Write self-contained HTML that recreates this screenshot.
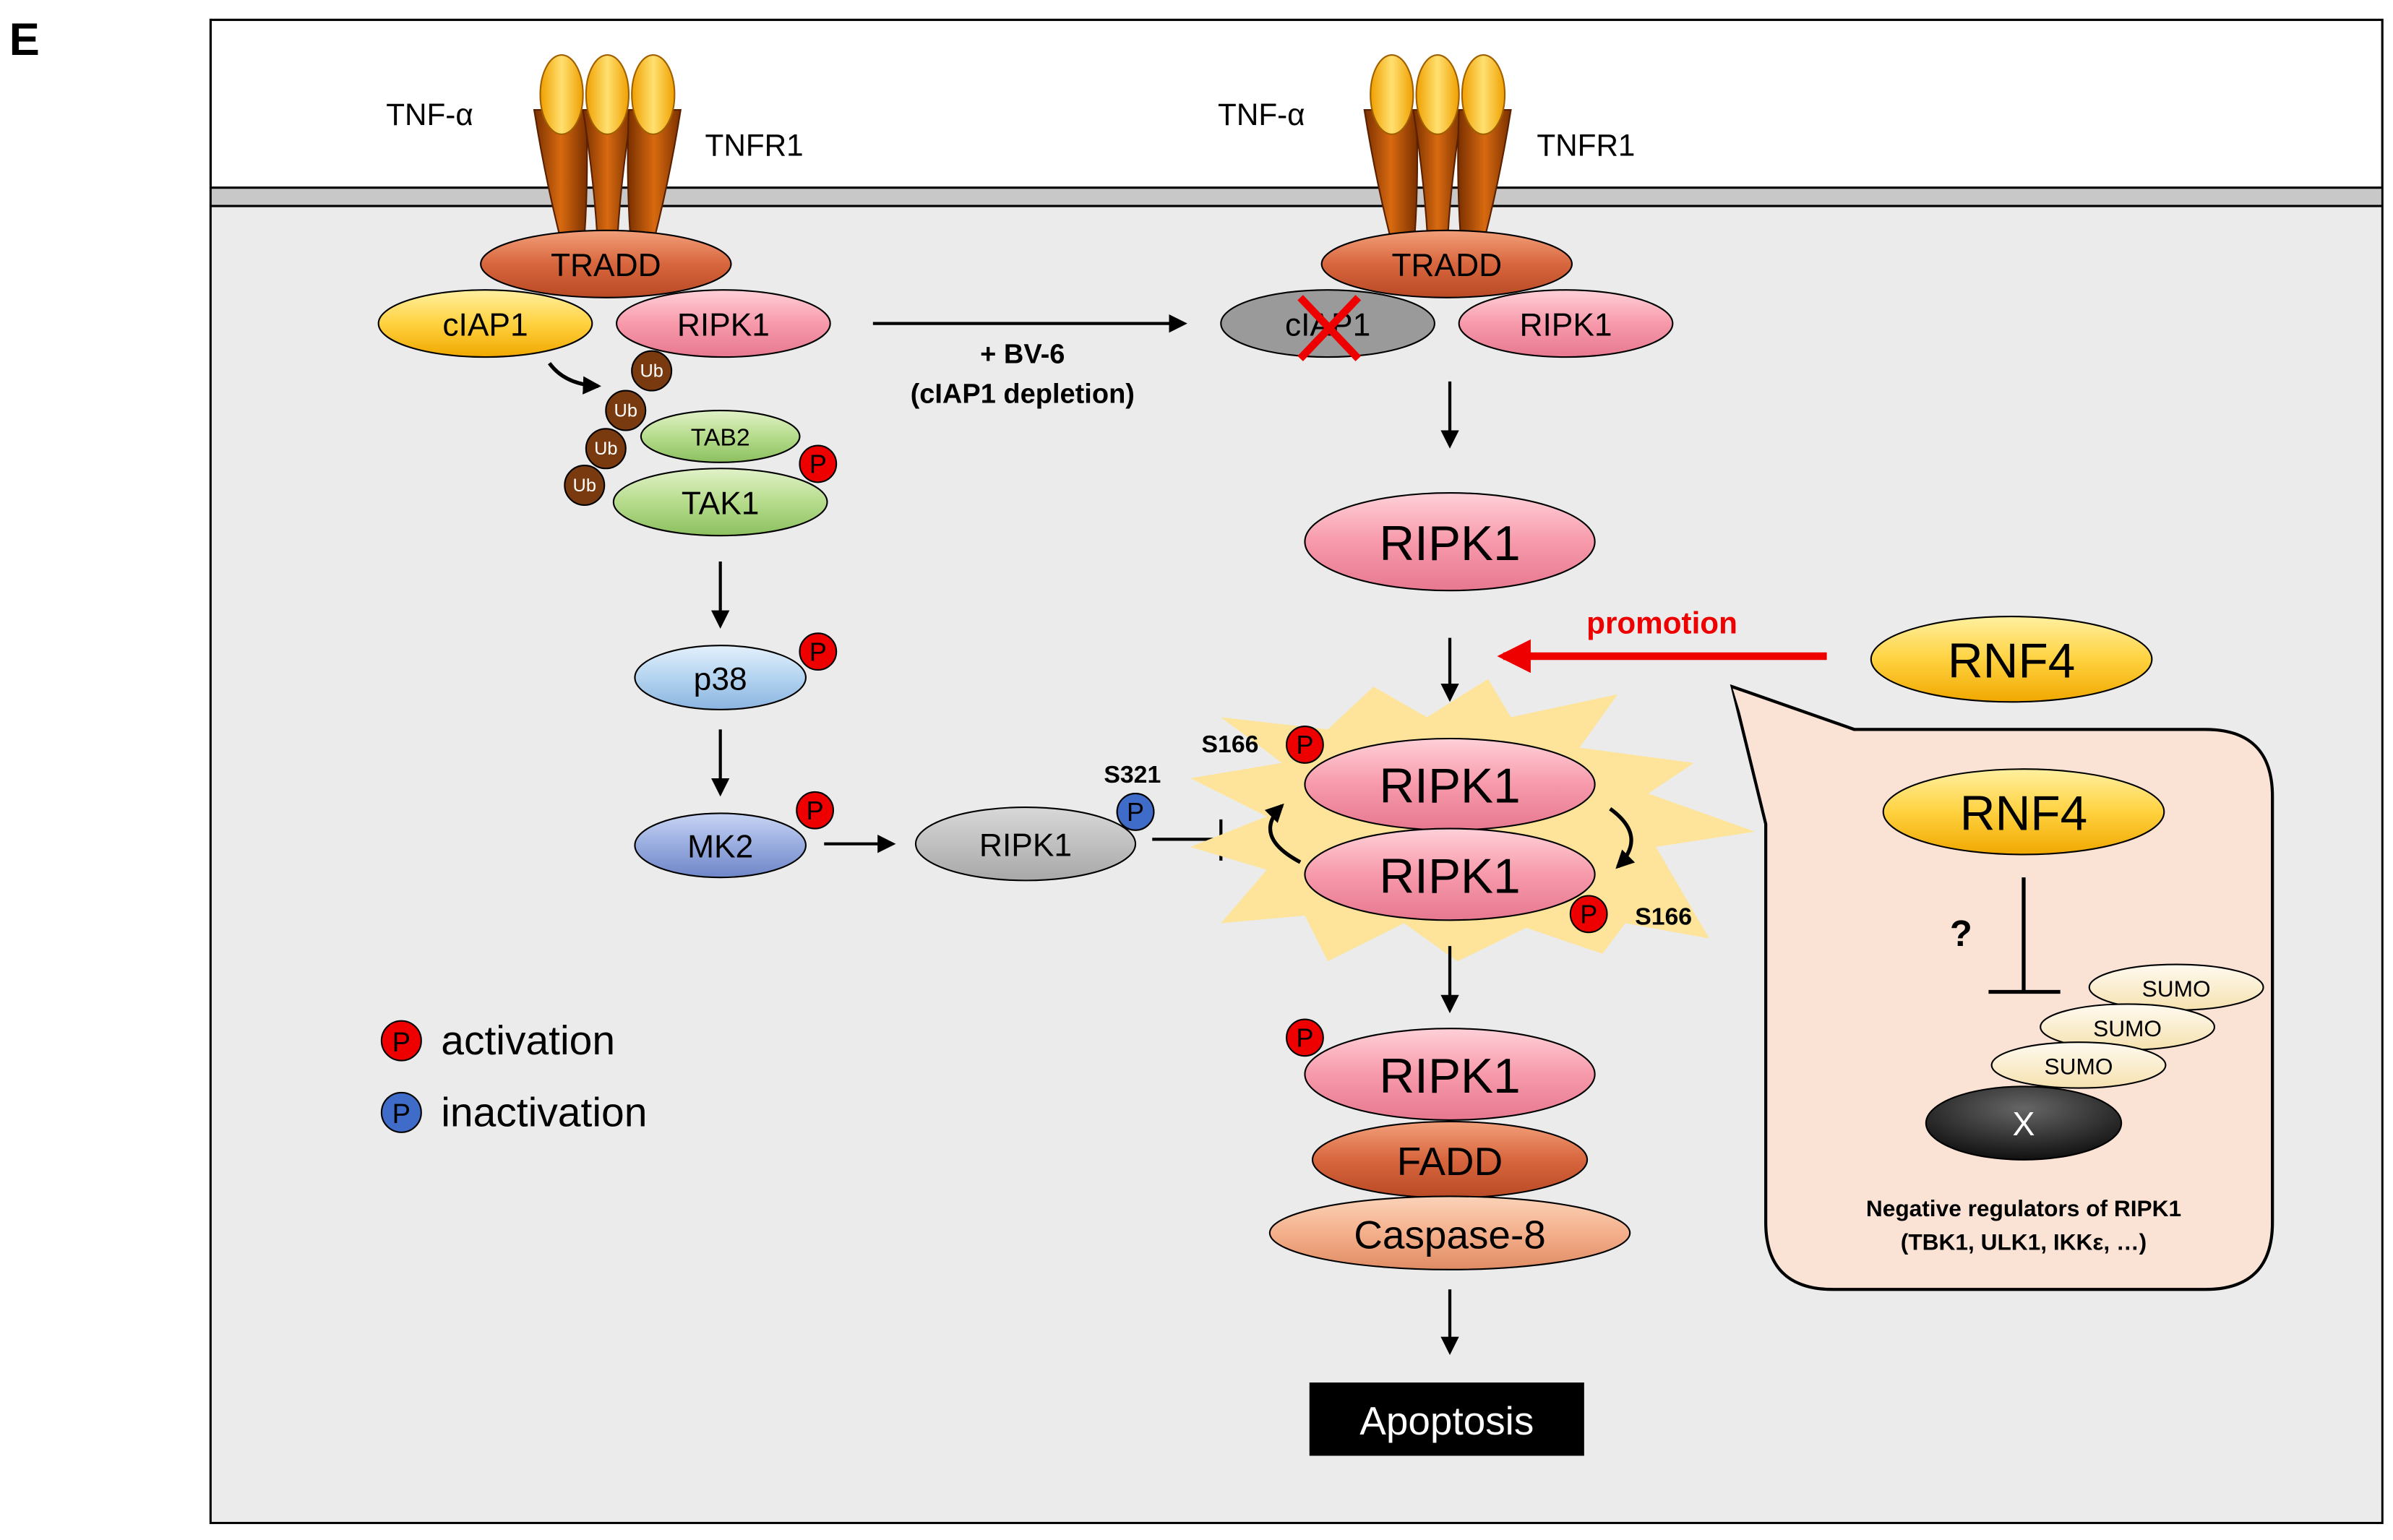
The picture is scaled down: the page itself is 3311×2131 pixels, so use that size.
<!DOCTYPE html>
<html><head><meta charset="utf-8"><style>html,body{margin:0;padding:0;background:#fff}svg{display:block}text{font-family:"Liberation Sans",Arial,sans-serif}</style></head>
<body>
<svg width="3311" height="2131" viewBox="0 0 1568 1009.2" preserveAspectRatio="none" xmlns="http://www.w3.org/2000/svg">
<defs>
<marker id="ar" markerWidth="12" markerHeight="12" refX="10" refY="6" orient="auto" markerUnits="userSpaceOnUse"><path d="M0,0 L12,6 L0,12 z" fill="#000"/></marker>
<marker id="arr" markerWidth="22" markerHeight="22" refX="18" refY="11" orient="auto" markerUnits="userSpaceOnUse"><path d="M0,0 L22,11 L0,22 z" fill="#e00"/></marker>
<linearGradient id="gPink" x1="0" y1="0" x2="0" y2="1"><stop offset="0" stop-color="#ffd0d8"/><stop offset="0.5" stop-color="#f79aab"/><stop offset="1" stop-color="#e77890"/></linearGradient>
<linearGradient id="gBrown" x1="0" y1="0" x2="0" y2="1"><stop offset="0" stop-color="#f2a07a"/><stop offset="0.5" stop-color="#d8663e"/><stop offset="1" stop-color="#b84a25"/></linearGradient>
<linearGradient id="gYel" x1="0" y1="0" x2="0" y2="1"><stop offset="0" stop-color="#fff0a0"/><stop offset="0.5" stop-color="#ffd240"/><stop offset="1" stop-color="#f0a800"/></linearGradient>
<linearGradient id="gGreen" x1="0" y1="0" x2="0" y2="1"><stop offset="0" stop-color="#e2f2c8"/><stop offset="0.5" stop-color="#b6dc8c"/><stop offset="1" stop-color="#8cc060"/></linearGradient>
<linearGradient id="gLB" x1="0" y1="0" x2="0" y2="1"><stop offset="0" stop-color="#e4f0fc"/><stop offset="0.5" stop-color="#b4d4f0"/><stop offset="1" stop-color="#8ab4e0"/></linearGradient>
<linearGradient id="gB" x1="0" y1="0" x2="0" y2="1"><stop offset="0" stop-color="#c8d4f4"/><stop offset="0.5" stop-color="#98acdf"/><stop offset="1" stop-color="#6f86c8"/></linearGradient>
<linearGradient id="gGray" x1="0" y1="0" x2="0" y2="1"><stop offset="0" stop-color="#d8d8d8"/><stop offset="1" stop-color="#a8a8a8"/></linearGradient>
<linearGradient id="gSal" x1="0" y1="0" x2="0" y2="1"><stop offset="0" stop-color="#fbd2b8"/><stop offset="0.5" stop-color="#f4b08c"/><stop offset="1" stop-color="#e08c64"/></linearGradient>
<linearGradient id="gRec" x1="0" y1="0" x2="1" y2="0"><stop offset="0" stop-color="#7a3000"/><stop offset="0.5" stop-color="#d86a10"/><stop offset="1" stop-color="#7a3000"/></linearGradient>
<linearGradient id="gTnf" x1="0" y1="0" x2="1" y2="0"><stop offset="0" stop-color="#f0a000"/><stop offset="0.5" stop-color="#ffe070"/><stop offset="1" stop-color="#f0a000"/></linearGradient>
<linearGradient id="gSumo" x1="0" y1="0" x2="0" y2="1"><stop offset="0" stop-color="#fffaf0"/><stop offset="1" stop-color="#f6e2b0"/></linearGradient>
<radialGradient id="gX" cx="0.5" cy="0.3" r="0.7"><stop offset="0" stop-color="#666"/><stop offset="1" stop-color="#111"/></radialGradient>
<g id="rec">
<path d="M-48,0 Q-40,50 -28,95 L-16,95 Q-12,50 -14,0 z" fill="url(#gRec)" stroke="#5a2000" stroke-width="1"/>
<path d="M-16,0 Q-8,50 -6,95 L6,95 Q8,50 16,0 z" fill="url(#gRec)" stroke="#5a2000" stroke-width="1"/>
<path d="M14,0 Q12,50 16,95 L28,95 Q40,50 48,0 z" fill="url(#gRec)" stroke="#5a2000" stroke-width="1"/>
<ellipse cx="-30" cy="-10" rx="14" ry="26" fill="url(#gTnf)" stroke="#a06000"/>
<ellipse cx="0" cy="-10" rx="14" ry="26" fill="url(#gTnf)" stroke="#a06000"/>
<ellipse cx="30" cy="-10" rx="14" ry="26" fill="url(#gTnf)" stroke="#a06000"/>
</g>
</defs>
<rect x="0" y="0" width="1568" height="1009.2" fill="#fff"/>
<text x="6" y="36" font-size="30" font-weight="bold">E</text>
<rect x="138" y="13" width="1423" height="985" fill="#fff" stroke="#000" stroke-width="1.5"/>
<rect x="138.7" y="135" width="1421.6" height="862.3" fill="#ebebeb"/>
<rect x="138.7" y="123" width="1421.6" height="12" fill="#c8c8c8"/>
<line x1="138" y1="123" x2="1561" y2="123" stroke="#000" stroke-width="1.5"/>
<line x1="138" y1="135" x2="1561" y2="135" stroke="#000" stroke-width="1.5"/>

<use href="#rec" x="398" y="72"/>
<text x="253" y="82" font-size="20">TNF-α</text>
<text x="462" y="102" font-size="20">TNFR1</text>
<use href="#rec" x="942" y="72"/>
<text x="798" y="82" font-size="20">TNF-α</text>
<text x="1007" y="102" font-size="20">TNFR1</text>

<ellipse cx="397" cy="173" rx="82" ry="22" fill="url(#gBrown)" stroke="#000"/>
<text x="397" y="181" font-size="21" text-anchor="middle">TRADD</text>
<ellipse cx="318" cy="212" rx="70" ry="22" fill="url(#gYel)" stroke="#000"/>
<text x="318" y="220" font-size="21" text-anchor="middle">cIAP1</text>
<ellipse cx="474" cy="212" rx="70" ry="22" fill="url(#gPink)" stroke="#000"/>
<text x="474" y="220" font-size="21" text-anchor="middle">RIPK1</text>
<path d="M360,238 Q370,252 392,253" fill="none" stroke="#000" stroke-width="2.5" marker-end="url(#ar)"/>
<ellipse cx="472" cy="286" rx="52" ry="17" fill="url(#gGreen)" stroke="#000"/>
<text x="472" y="292" font-size="16" text-anchor="middle">TAB2</text>
<ellipse cx="472" cy="329" rx="70" ry="22" fill="url(#gGreen)" stroke="#000"/>
<text x="472" y="337" font-size="21" text-anchor="middle">TAK1</text>
<g font-size="12" fill="#fff" text-anchor="middle">
<circle cx="427" cy="243" r="13" fill="#7a3a10" stroke="#000"/><text x="427" y="247">Ub</text>
<circle cx="410" cy="269" r="13" fill="#7a3a10" stroke="#000"/><text x="410" y="273">Ub</text>
<circle cx="397" cy="294" r="13" fill="#7a3a10" stroke="#000"/><text x="397" y="298">Ub</text>
<circle cx="383" cy="318" r="13" fill="#7a3a10" stroke="#000"/><text x="383" y="322">Ub</text>
</g>
<g font-size="17" text-anchor="middle">
<circle cx="536" cy="304" r="12" fill="#e00" stroke="#000"/><text x="536" y="310">P</text>
<circle cx="536" cy="427" r="12" fill="#e00" stroke="#000"/><text x="536" y="433">P</text>
<circle cx="534" cy="531" r="12" fill="#e00" stroke="#000"/><text x="534" y="537">P</text>
<circle cx="744" cy="532" r="12" fill="#3f6cc8" stroke="#000"/><text x="744" y="538">P</text>
</g>
<line x1="472" y1="368" x2="472" y2="410" stroke="#000" stroke-width="2" marker-end="url(#ar)"/>
<ellipse cx="472" cy="444" rx="56" ry="21" fill="url(#gLB)" stroke="#000"/>
<text x="472" y="452" font-size="21" text-anchor="middle">p38</text>
<line x1="472" y1="478" x2="472" y2="520" stroke="#000" stroke-width="2" marker-end="url(#ar)"/>
<ellipse cx="472" cy="554" rx="56" ry="21" fill="url(#gB)" stroke="#000"/>
<text x="472" y="562" font-size="21" text-anchor="middle">MK2</text>
<line x1="540" y1="553" x2="585" y2="553" stroke="#000" stroke-width="2" marker-end="url(#ar)"/>
<ellipse cx="672" cy="553" rx="72" ry="24" fill="url(#gGray)" stroke="#000"/>
<text x="672" y="561" font-size="21" text-anchor="middle">RIPK1</text>
<circle cx="744" cy="532" r="12" fill="#3f6cc8" stroke="#000"/><text x="744" y="538" font-size="17" text-anchor="middle">P</text>
<text x="742" y="513" font-size="16" font-weight="bold" text-anchor="middle">S321</text>
<line x1="755" y1="550" x2="800" y2="550" stroke="#000" stroke-width="2"/>
<line x1="800" y1="537" x2="800" y2="564" stroke="#000" stroke-width="2"/>

<line x1="572" y1="212" x2="776" y2="212" stroke="#000" stroke-width="2" marker-end="url(#ar)"/>
<text x="670" y="238" font-size="18" font-weight="bold" text-anchor="middle">+ BV-6</text>
<text x="670" y="264" font-size="18" font-weight="bold" text-anchor="middle">(cIAP1 depletion)</text>

<ellipse cx="948" cy="173" rx="82" ry="22" fill="url(#gBrown)" stroke="#000"/>
<text x="948" y="181" font-size="21" text-anchor="middle">TRADD</text>
<ellipse cx="870" cy="212" rx="70" ry="22" fill="#9a9a9a" stroke="#000"/>
<text x="870" y="220" font-size="21" text-anchor="middle">cIAP1</text>
<path d="M852,195 L890,235 M890,195 L852,235" stroke="#e00" stroke-width="5"/>
<ellipse cx="1026" cy="212" rx="70" ry="22" fill="url(#gPink)" stroke="#000"/>
<text x="1026" y="220" font-size="21" text-anchor="middle">RIPK1</text>
<line x1="950" y1="250" x2="950" y2="292" stroke="#000" stroke-width="2" marker-end="url(#ar)"/>
<ellipse cx="950" cy="355" rx="95" ry="32" fill="url(#gPink)" stroke="#000"/>
<text x="950" y="367" font-size="32" text-anchor="middle">RIPK1</text>
<line x1="950" y1="418" x2="950" y2="458" stroke="#000" stroke-width="2" marker-end="url(#ar)"/>
<line x1="1197" y1="430" x2="985" y2="430" stroke="#e00" stroke-width="5" marker-end="url(#arr)"/>
<text x="1089" y="415" font-size="20" font-weight="bold" fill="#e00" text-anchor="middle">promotion</text>
<ellipse cx="1318" cy="432" rx="92" ry="28" fill="url(#gYel)" stroke="#000"/>
<text x="1318" y="444" font-size="32" text-anchor="middle">RNF4</text>

<polygon points="800,470 870,478 900,450 935,470 975,445 990,470 1060,455 1035,490 1110,500 1080,520 1150,545 1085,555 1120,615 1065,605 1050,625 1000,608 955,630 920,605 870,630 855,600 800,605 830,570 780,555 830,535 780,510 840,500" fill="#fde49a"/>
<ellipse cx="950" cy="514" rx="95" ry="30" fill="url(#gPink)" stroke="#000"/>
<text x="950" y="526" font-size="32" text-anchor="middle">RIPK1</text>
<ellipse cx="950" cy="573" rx="95" ry="30" fill="url(#gPink)" stroke="#000"/>
<text x="950" y="585" font-size="32" text-anchor="middle">RIPK1</text>
<g font-size="17" text-anchor="middle">
<circle cx="855" cy="488" r="12" fill="#e00" stroke="#000"/><text x="855" y="494">P</text>
<circle cx="1041" cy="599" r="12" fill="#e00" stroke="#000"/><text x="1041" y="605">P</text>
</g>
<text x="806" y="493" font-size="16" font-weight="bold" text-anchor="middle">S166</text>
<text x="1090" y="606" font-size="16" font-weight="bold" text-anchor="middle">S166</text>
<path d="M852,565 Q820,548 840,528" fill="none" stroke="#000" stroke-width="2.5" marker-end="url(#ar)"/>
<path d="M1055,530 Q1080,548 1060,568" fill="none" stroke="#000" stroke-width="2.5" marker-end="url(#ar)"/>
<line x1="950" y1="620" x2="950" y2="662" stroke="#000" stroke-width="2" marker-end="url(#ar)"/>
<ellipse cx="950" cy="760" rx="90" ry="25" fill="url(#gBrown)" stroke="#000"/>
<text x="950" y="770" font-size="26" text-anchor="middle">FADD</text>
<ellipse cx="950" cy="704" rx="95" ry="30" fill="url(#gPink)" stroke="#000"/>
<text x="950" y="716" font-size="32" text-anchor="middle">RIPK1</text>
<circle cx="855" cy="680" r="12" fill="#e00" stroke="#000"/><text x="855" y="686" font-size="17" text-anchor="middle">P</text>
<ellipse cx="950" cy="808" rx="118" ry="24" fill="url(#gSal)" stroke="#000"/>
<text x="950" y="818" font-size="26" text-anchor="middle">Caspase-8</text>
<line x1="950" y1="845" x2="950" y2="886" stroke="#000" stroke-width="2" marker-end="url(#ar)"/>
<rect x="858" y="906" width="180" height="48" fill="#000"/>
<text x="948" y="940" font-size="26" fill="#fff" text-anchor="middle">Apoptosis</text>

<circle cx="263" cy="682" r="13" fill="#e00" stroke="#000"/><text x="263" y="689" font-size="18" text-anchor="middle">P</text>
<text x="289" y="691" font-size="27">activation</text>
<circle cx="263" cy="729" r="13" fill="#3f6cc8" stroke="#000"/><text x="263" y="736" font-size="18" text-anchor="middle">P</text>
<text x="289" y="738" font-size="27">inactivation</text>

<path d="M1215,478 L1445,478 Q1489,478 1489,522 L1489,801 Q1489,845 1445,845 L1201,845 Q1157,845 1157,801 L1157,540 L1135,450 Z" fill="#fae3d5" stroke="#000" stroke-width="2"/>
<path d="M1135,450 L1215,478 L1201,478 Q1157,478 1157,522 Z" fill="#fae3d5" stroke="none"/>
<path d="M1135,450 L1215,478" stroke="#000" stroke-width="2"/>
<ellipse cx="1326" cy="532" rx="92" ry="28" fill="url(#gYel)" stroke="#000"/>
<text x="1326" y="544" font-size="32" text-anchor="middle">RNF4</text>
<line x1="1326" y1="575" x2="1326" y2="650" stroke="#000" stroke-width="2.5"/>
<line x1="1303" y1="650" x2="1350" y2="650" stroke="#000" stroke-width="2.5"/>
<text x="1285" y="620" font-size="24" font-weight="bold" text-anchor="middle">?</text>
<ellipse cx="1426" cy="647" rx="57" ry="15" fill="url(#gSumo)" stroke="#000"/>
<text x="1426" y="653" font-size="15" text-anchor="middle">SUMO</text>
<ellipse cx="1394" cy="673" rx="57" ry="15" fill="url(#gSumo)" stroke="#000"/>
<text x="1394" y="679" font-size="15" text-anchor="middle">SUMO</text>
<ellipse cx="1362" cy="698" rx="57" ry="15" fill="url(#gSumo)" stroke="#000"/>
<text x="1362" y="704" font-size="15" text-anchor="middle">SUMO</text>
<ellipse cx="1326" cy="736" rx="64" ry="24" fill="url(#gX)" stroke="#000"/>
<text x="1326" y="744" font-size="22" fill="#fff" text-anchor="middle">X</text>
<text x="1326" y="797" font-size="15" font-weight="bold" text-anchor="middle">Negative regulators of RIPK1</text>
<text x="1326" y="819" font-size="15" font-weight="bold" text-anchor="middle">(TBK1, ULK1, IKKε, …)</text>
</svg>
</body></html>
